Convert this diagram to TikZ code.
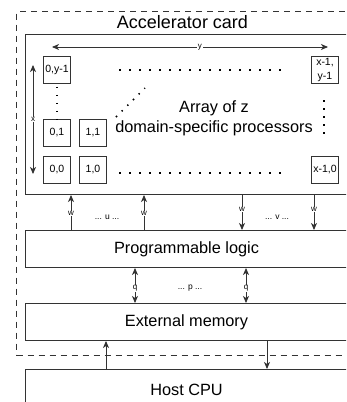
\documentclass[tikz,border=0pt]{standalone}
\usepackage{fontspec}
\setmainfont{Liberation Sans}
\usetikzlibrary{arrows.meta}

\definecolor{linec}{gray}{0.2}

\tikzset{
  block/.style={draw=linec, line width=1pt, inner sep=0pt, anchor=north west,
    minimum width=322pt, font=\fontsize{16.3}{19}\selectfont},
  pe/.style={draw=linec, line width=0.9pt, minimum size=27pt, inner sep=0pt,
    align=center, font=\fontsize{10.5}{14}\selectfont},
  tip/.style={-{Stealth[length=7pt,width=6pt,inset=2pt]}},
  tips/.style={{Stealth[length=7pt,width=6pt,inset=2pt]}-{Stealth[length=7pt,width=6pt,inset=2pt]}},
  link/.style={draw=linec, line width=0.9pt},
  tag/.style={fill=white, inner sep=0.6pt, font=\fontsize{8}{9}\selectfont},
  ellip/.style={font=\fontsize{8.5}{10}\selectfont},
  hdots/.style={draw=black, line width=1.5pt, dash pattern=on 1.5pt off 8.5pt},
  vdots/.style={draw=black, line width=1.5pt, dash pattern=on 1.5pt off 6.5pt},
}

\begin{document}
\begin{tikzpicture}[x=1pt,y=-1pt]
\useasboundingbox (0,0) rectangle (346,402);
\clip (0,0) rectangle (346,402);

% card boundary and its title
\node[draw=linec, line width=1pt, dash pattern=on 6pt off 5pt, inner sep=0pt,
  anchor=north west, minimum width=333pt, minimum height=344pt] (card) at (16,11) {};
\node[font=\fontsize{18}{21}\selectfont] (cardtitle) at (182.5,22) {Accelerator card};

% main blocks
\node[block, minimum height=160pt] (arr) at (25,34) {};
\node[block, minimum height=37pt] (pl) at (25,230) {Programmable logic};
\node[block, minimum height=37pt] (mem) at (25,303) {External memory};
\node[block, minimum height=40pt] (host) at (25,369) {\raisebox{-2pt}{Host CPU}};

% processor grid
\node[pe] (p0y) at (57,70) {0,y-1};
\node[pe] (p01) at (57,133) {0,1};
\node[pe] (p11) at (93,133) {1,1};
\node[pe] (p00) at (57,170) {0,0};
\node[pe] (p10) at (93,170) {1,0};
\node[pe] (pxy) at (325,70) {x-1,\\y-1};
\node[pe] (px0) at (325,170) {x-1,0};

\node[align=center, font=\fontsize{16.3}{20}\selectfont] (arrtext) at (214,118)
  {Array of z\\domain-specific processors};

% ellipses between processors
\draw[hdots] (119,70) -- (285,70);
\draw[hdots] (119,173) -- (285,173);
\draw[vdots] (p0y.south) ++(0,3) -- (p01.north);
\draw[vdots] (324,100) -- (324,134);
\draw[vdots] (116,117) -- (145,88);

% grid dimensions
\coordinate (ya) at (52,47);
\coordinate (yb) at (328,47);
\draw[link, tips] (ya) -- node[tag, pos=0.536] {y} (yb);
\coordinate (xa) at (33,65);
\coordinate (xb) at (33,174);
\draw[link, tips] (xa) -- node[tag] {x} (xb);

% links between programmable logic and the array
\coordinate (u1) at (71,0);
\coordinate (u2) at (144,0);
\coordinate (v1) at (242,0);
\coordinate (v2) at (314,0);
\draw[link, tip] (u1 |- pl.north) -- node[tag, pos=0.47] {w} (u1 |- arr.south);
\draw[link, tip] (u2 |- pl.north) -- node[tag, pos=0.47] {w} (u2 |- arr.south);
\draw[link, tip] (v1 |- arr.south) -- node[tag, pos=0.42] {w} (v1 |- pl.north);
\draw[link, tip] (v2 |- arr.south) -- node[tag, pos=0.42] {w} (v2 |- pl.north);
\node[ellip] (ulab) at (107,217) {... u ...};
\node[ellip] (vlab) at (277,217) {... v ...};

% links between programmable logic and external memory
\coordinate (q1) at (135,0);
\coordinate (q2) at (246,0);
\draw[link, tips] (q1 |- pl.south) -- node[tag, pos=0.58] {q} (q1 |- mem.north);
\draw[link, tips] (q2 |- pl.south) -- node[tag, pos=0.58] {q} (q2 |- mem.north);
\node[ellip] (plab) at (190,288) {... p ...};

% host links
\coordinate (h1) at (106,0);
\coordinate (h2) at (267,0);
\draw[link, tip] (h1 |- host.north) -- (h1 |- mem.south);
\draw[link, tip] (h2 |- mem.south) -- (h2 |- host.north);
\end{tikzpicture}
\end{document}
